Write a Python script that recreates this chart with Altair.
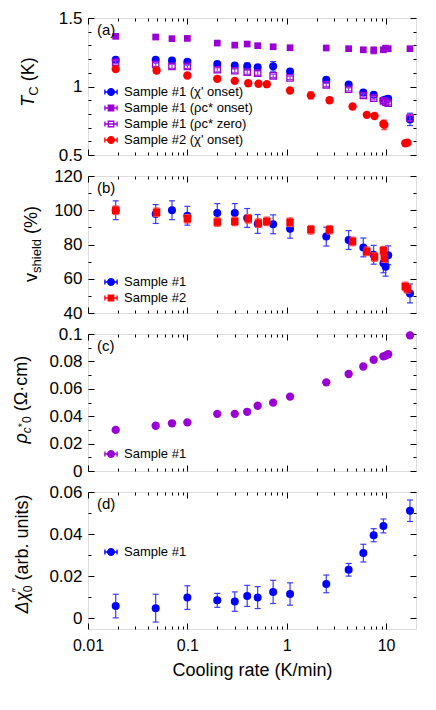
import altair as alt
import pandas as pd

# ---------------- data ----------------
rate_s1 = [0.019, 0.048, 0.07, 0.1, 0.2, 0.3, 0.4, 0.51, 0.73, 1.08, 2.5, 4.2, 5.9, 7.5, 9.4, 9.9, 10.5, 17.4]
rate_s2 = [0.019, 0.049, 0.1, 0.2, 0.3, 0.41, 0.52, 0.63, 1.08, 1.75, 2.7, 4.6, 6.4, 7.65, 9.4, 9.6, 15.6, 16.4]
rate_d = [0.019, 0.048, 0.1, 0.2, 0.3, 0.4, 0.51, 0.73, 1.08, 2.5, 4.2, 5.9, 7.5, 9.4, 17.4]

# (a) Tc
tc_chi1 = [1.195, 1.195, 1.19, 1.18, 1.164, 1.154, 1.147, 1.14, 1.147, 1.11, 1.049, 1.015, 0.956, 0.94, 0.90, 0.905, 0.91, 0.76]
tc_chi1_err = [0.012, 0.01, 0.01, 0.01, 0.01, 0.012, 0.025, 0.012, 0.035, 0.012, 0.012, 0.012, 0.012, 0.012, 0.012, 0.012, 0.012, 0.045]
tc_rho_on = [1.366, 1.361, 1.349, 1.351, 1.317, 1.302, 1.31, 1.298, 1.29, 1.283, 1.281, 1.276, 1.268, 1.264, 1.268, 1.28, 1.276, 1.276]
tc_rho_on_err = [0.01, 0.01, 0.01, 0.01, 0.01, 0.01, 0.01, 0.01, 0.01, 0.01, 0.01, 0.01, 0.012, 0.025, 0.012, 0.015, 0.012, 0.01]
tc_rho_zero = [1.176, 1.161, 1.147, 1.147, 1.122, 1.115, 1.105, 1.098, 1.078, 1.063, 1.012, 0.98, 0.934, 0.915, 0.895, 0.885, 0.878, 0.77]
tc_rho_zero_err = [0.012, 0.015, 0.015, 0.015, 0.015, 0.015, 0.015, 0.015, 0.012, 0.012, 0.012, 0.012, 0.012, 0.012, 0.012, 0.012, 0.012, 0.02]
tc_chi2 = [1.127, 1.117, 1.08, 1.056, 1.041, 1.024, 1.02, 1.017, 0.971, 0.935, 0.90, 0.854, 0.793, 0.785, 0.727, 0.72, 0.586, 0.59]
tc_chi2_err = [0.012, 0.02, 0.012, 0.015, 0.012, 0.015, 0.015, 0.012, 0.015, 0.025, 0.02, 0.015, 0.015, 0.015, 0.02, 0.035, 0.012, 0.012]

# (b) v_shield
vs1 = [100, 97.8, 100, 96.8, 98.4, 98.4, 95.5, 92, 91.8, 89.2, 84.6, 82.6, 78.3, 74, 69, 67, 73.7, 51.4]
vs1_err = [5.5] * 18
vs2 = [100, 98.8, 95, 93.1, 93.5, 95, 92.5, 93.5, 93, 88.6, 88.6, 81.8, 76, 72.7, 76.4, 72, 55.5, 54.1]
vs2_err = [2.5] * 18

# (c) rho_c*0
rho0 = [0.030, 0.033, 0.0348, 0.0355, 0.0417, 0.0417, 0.0432, 0.0476, 0.0499, 0.0543, 0.0647, 0.0708, 0.0763, 0.0812, 0.0837, 0.0842, 0.0852, 0.099]

# (d) delta chi''
dchi = [0.0059, 0.0049, 0.0099, 0.0086, 0.008, 0.0107, 0.0099, 0.0126, 0.0116, 0.0164, 0.0231, 0.031, 0.0395, 0.0439, 0.0511]
dchi_err = [0.0056, 0.0066, 0.0056, 0.0033, 0.0046, 0.005, 0.0052, 0.0055, 0.0053, 0.0042, 0.003, 0.0042, 0.0031, 0.0033, 0.0051]

x_major = [0.01, 0.1, 1, 10]
x_ticks = [0.01, 0.02, 0.03, 0.04, 0.05, 0.06, 0.07, 0.08, 0.09,
           0.1, 0.2, 0.3, 0.4, 0.5, 0.6, 0.7, 0.8, 0.9,
           1, 2, 3, 4, 5, 6, 7, 8, 9, 10]

# ---------------- style ----------------
W, H = 328, 137
FONT = "Liberation Sans"
BLUE, BLUE_E = "#0000ff", "#3a3aff"
PURPLE, PURPLE_E = "#9a00d6", "#a640dd"
RED, RED_E = "#ff0000", "#ff4545"
TF, SF = 18, 13  # title font / subscript font

XS = alt.Scale(type="log", domain=[0.01, 20], nice=False)
CIRCLE_BAR = "M-1,0L1,0M-1,-0.4L-1,0.4M1,-0.4L1,0.4M-0.55,0A0.55,0.55,0,1,1,0.55,0A0.55,0.55,0,1,1,-0.55,0Z"
SQUARE_BAR = "M-1,0L1,0M-1,-0.4L-1,0.4M1,-0.4L1,0.4M-0.45,-0.45L0.45,-0.45L0.45,0.45L-0.45,0.45Z"

CHARW = {'T': .611, 'C': .722, ' ': .278, '(': .333, ')': .333, 'K': .667, 'v': .5, 's': .5,
         'h': .556, 'i': .222, 'e': .556, 'l': .222, 'd': .556, '%': .889, 'ρ': .58, 'c': .5, '*': .389,
         '0': .556, 'Ω': .768, '·': .278, 'm': .833, 'Δ': .668, 'χ': .52, '″': .4, 'a': .556, 'r': .333,
         'b': .556, '.': .278, 'u': .556, 'n': .556, 't': .278}


def text_w(s, size):
    return sum(CHARW.get(ch, 0.55) for ch in s) * size


ONE = alt.Data(values=[{"x": 1, "y": 0}])


def ytitle(pieces, xb, center=68):
    # piece: (text, size, italic, shift_x, advance, gap_before)
    total = sum((text_w(t, s) if adv else 0) + g for t, s, it, sh, adv, g in pieces)
    y0 = center + total / 2
    layers = []
    cum = 0
    for t, s, it, sh, adv, g in pieces:
        cum += g
        layers.append(
            alt.Chart(ONE).mark_text(text=t, angle=270, align="left", baseline="alphabetic",
                                     font=FONT, fontSize=s, fontStyle="italic" if it else "normal",
                                     color="black")
            .encode(x=alt.value(xb + sh), y=alt.value(y0 - cum))
        )
        if adv:
            cum += text_w(t, s)
    return layers


def panel_label(txt):
    return alt.Chart(ONE).mark_text(text=txt, align="left", baseline="middle", font=FONT,
                                    fontSize=15, color="black").encode(x=alt.value(9), y=alt.value(12))


def series(xv, yv, err, X, Y, color, ecolor, shape, size, filled=True, ew=1.2):
    df = pd.DataFrame({"x": xv, "y": yv})
    layers = []
    if err is not None:
        df["lo"] = [a - b for a, b in zip(yv, err)]
        df["hi"] = [a + b for a, b in zip(yv, err)]
        base = alt.Chart(df)
        layers.append(base.mark_rule(color=ecolor, strokeWidth=ew).encode(x=X, y=Y("lo"), y2="hi"))
        layers.append(base.mark_tick(orient="horizontal", size=6, thickness=ew, color=ecolor, opacity=1)
                      .encode(x=X, y=Y("lo")))
        layers.append(base.mark_tick(orient="horizontal", size=6, thickness=ew, color=ecolor, opacity=1)
                      .encode(x=X, y=Y("hi")))
    base = alt.Chart(df)
    if filled:
        pt = base.mark_point(shape=shape, filled=True, size=size, color=color, opacity=1, strokeWidth=0)
    else:
        pt = base.mark_point(shape=shape, filled=False, size=size, color=color, opacity=1, strokeWidth=1.3)
    layers.append(pt.encode(x=X, y=Y("y")))
    return layers


def legend_layer(key, labels, shapes, fills, strokes, lx, ly):
    leg = alt.Legend(orient="none", legendX=lx, legendY=ly, title=None, labelFont=FONT,
                     labelFontSize=13, labelColor="black", symbolSize=150, symbolStrokeWidth=1.3,
                     symbolOpacity=1, rowPadding=2, labelOffset=6, padding=0)
    df = pd.DataFrame({key: labels})
    return alt.Chart(df).transform_filter("false").mark_point(opacity=1).encode(
        shape=alt.Shape(f"{key}:N", scale=alt.Scale(domain=labels, range=shapes), legend=leg),
        fill=alt.Fill(f"{key}:N", scale=alt.Scale(domain=labels, range=fills), legend=leg),
        stroke=alt.Stroke(f"{key}:N", scale=alt.Scale(domain=labels, range=strokes), legend=leg),
    )


def make_panel(ydom, ymaj, yticks, ystep, build, leg, title_pieces, title_xb, title_c, label, show_x):
    YS = alt.Scale(domain=ydom, nice=False, zero=False)
    yax = alt.Axis(orient="left", values=ymaj, format="~r", ticks=False, tickSize=0, domain=False,
                   grid=False, title=None, labelFont=FONT, labelFontSize=17, labelColor="black",
                   labelPadding=6, labelFlush=False, labelOverlap=False)
    if show_x:
        xax = alt.Axis(orient="bottom", values=x_major, format="~r", ticks=False, tickSize=0,
                       domain=False, grid=False, title="Cooling rate (K/min)", labelFont=FONT,
                       labelFontSize=16, labelColor="black", labelPadding=8, labelFlush=False,
                       labelOverlap=False, titleFont=FONT,
                       titleFontSize=18, titleFontWeight="normal", titleColor="black", titlePadding=8)
    else:
        xax = None

    def X():
        return alt.X("x:Q", scale=XS, axis=xax)

    def Y(field):
        return alt.Y(f"{field}:Q", scale=YS, axis=yax)

    layers = build(X(), Y)
    layers.append(leg)
    layers.append(panel_label(label))
    layers += ytitle(title_pieces, title_xb, title_c)
    data_group = alt.layer(*layers)

    xtest = "abs(log(datum.value)/LN10 - round(log(datum.value)/LN10)) < 0.001"
    ytest = f"abs(datum.value/{ystep} - round(datum.value/{ystep})) < 0.000001"
    xts = {"condition": {"test": xtest, "value": 6}, "value": 3}
    yts = {"condition": {"test": ytest, "value": 6}, "value": 3}

    def tick_layer(xo, yo):
        return alt.Chart(ONE).transform_filter("false").mark_point().encode(
            x=alt.X("x:Q", scale=XS, axis=alt.Axis(orient=xo, offset=-H, values=x_ticks, labels=False,
                                                   domain=False, grid=False, title=None, tickColor="black",
                                                   tickWidth=1, tickSize=xts)),
            y=alt.Y("y:Q", scale=YS, axis=alt.Axis(orient=yo, offset=-W, values=yticks, labels=False,
                                                   domain=False, grid=False, title=None, tickColor="black",
                                                   tickWidth=1, tickSize=yts)),
        )

    return alt.layer(data_group, tick_layer("top", "right"), tick_layer("bottom", "left")).resolve_scale(
        x="independent", y="independent").properties(width=W, height=H)


# ---------------- panels ----------------
def build_a(X, Y):
    return (series(rate_s1, tc_chi1, tc_chi1_err, X, Y, BLUE, BLUE_E, "circle", 64)
            + series(rate_s1, tc_rho_on, tc_rho_on_err, X, Y, PURPLE, PURPLE_E, "square", 45)
            + series(rate_s1, tc_rho_zero, tc_rho_zero_err, X, Y, PURPLE, PURPLE_E, "square", 40, filled=False)
            + series(rate_s2, tc_chi2, tc_chi2_err, X, Y, RED, RED_E, "circle", 70))


labels_a = ["Sample #1 (χ' onset)", "Sample #1 (ρc* onset)", "Sample #1 (ρc* zero)", "Sample #2 (χ' onset)"]
leg_a = legend_layer("ka", labels_a, [CIRCLE_BAR, SQUARE_BAR, SQUARE_BAR, CIRCLE_BAR],
                     [BLUE, PURPLE, "transparent", RED], [BLUE, PURPLE, PURPLE, RED], 16, 67)
pa = make_panel([0.5, 1.5], [0.5, 1, 1.5], [0.5, 0.6, 0.7, 0.8, 0.9, 1.0, 1.1, 1.2, 1.3, 1.4, 1.5], 0.5,
                build_a, leg_a,
                [("T", TF, True, 0, True, 0), ("C", SF, False, 4, True, 0), ("(K)", TF, False, 0, True, 5)],
                -54, 64, "(a)", False)


def build_b(X, Y):
    return (series(rate_s1, vs1, vs1_err, X, Y, BLUE, BLUE_E, "circle", 64)
            + series(rate_s2, vs2, vs2_err, X, Y, RED, RED_E, "square", 56))


labels_b = ["Sample #1", "Sample #2"]
leg_b = legend_layer("kb", labels_b, [CIRCLE_BAR, SQUARE_BAR], [BLUE, RED], [BLUE, RED], 16, 99)
pb = make_panel([40, 120], [40, 60, 80, 100, 120], [40, 50, 60, 70, 80, 90, 100, 110, 120], 20,
                build_b, leg_b,
                [("v", TF, False, 0, True, 0), ("shield", SF, False, 4, True, 0), ("(%)", TF, False, 0, True, 5)],
                -51, 68, "(b)", False)


def build_c(X, Y):
    return series(rate_s1, rho0, None, X, Y, PURPLE, PURPLE_E, "circle", 70)


labels_c = ["Sample #1"]
leg_c = legend_layer("kc", labels_c, [CIRCLE_BAR], [PURPLE], [PURPLE], 16, 113)
pc = make_panel([0, 0.1], [0, 0.02, 0.04, 0.06, 0.08, 0.1],
                [0, 0.01, 0.02, 0.03, 0.04, 0.05, 0.06, 0.07, 0.08, 0.09, 0.1], 0.02,
                build_c, leg_c,
                [("ρ", TF, True, 0, True, 0), ("c", SF - 1, True, 4, True, 0), ("*", SF - 2, False, -1, True, 0),
                 ("0", SF - 1, False, 4, True, 0), ("(Ω·cm)", TF, False, 0, True, 5)],
                -61, 66, "(c)", False)


def build_d(X, Y):
    return series(rate_d, dchi, dchi_err, X, Y, BLUE, BLUE_E, "circle", 64)


labels_d = ["Sample #1"]
leg_d = legend_layer("kd", labels_d, [CIRCLE_BAR], [BLUE], [BLUE], 16, 53)
pd_ = make_panel([-0.005, 0.06], [0, 0.02, 0.04, 0.06], [0, 0.01, 0.02, 0.03, 0.04, 0.05, 0.06], 0.02,
                 build_d, leg_d,
                 [("Δχ", TF, True, 0, True, 0), ("″", SF - 1, False, -7, False, 0), ("0", SF - 1, False, 4, True, 0),
                  ("(arb.", TF, False, 0, True, 5), ("units)", TF, False, 0, True, 5)],
                 -60, 62, "(d)", True)

chart = alt.vconcat(pa, pb, pc, pd_, spacing=21, bounds="flush").resolve_scale(
    fill="independent", stroke="independent", shape="independent"
).properties(
    padding={"left": 2, "top": 0, "right": 5, "bottom": 5}
).configure_view(
    stroke="black", strokeWidth=1
).configure(
    font=FONT
)

chart.save("out.html", embed_options={"renderer": "svg", "actions": False})
